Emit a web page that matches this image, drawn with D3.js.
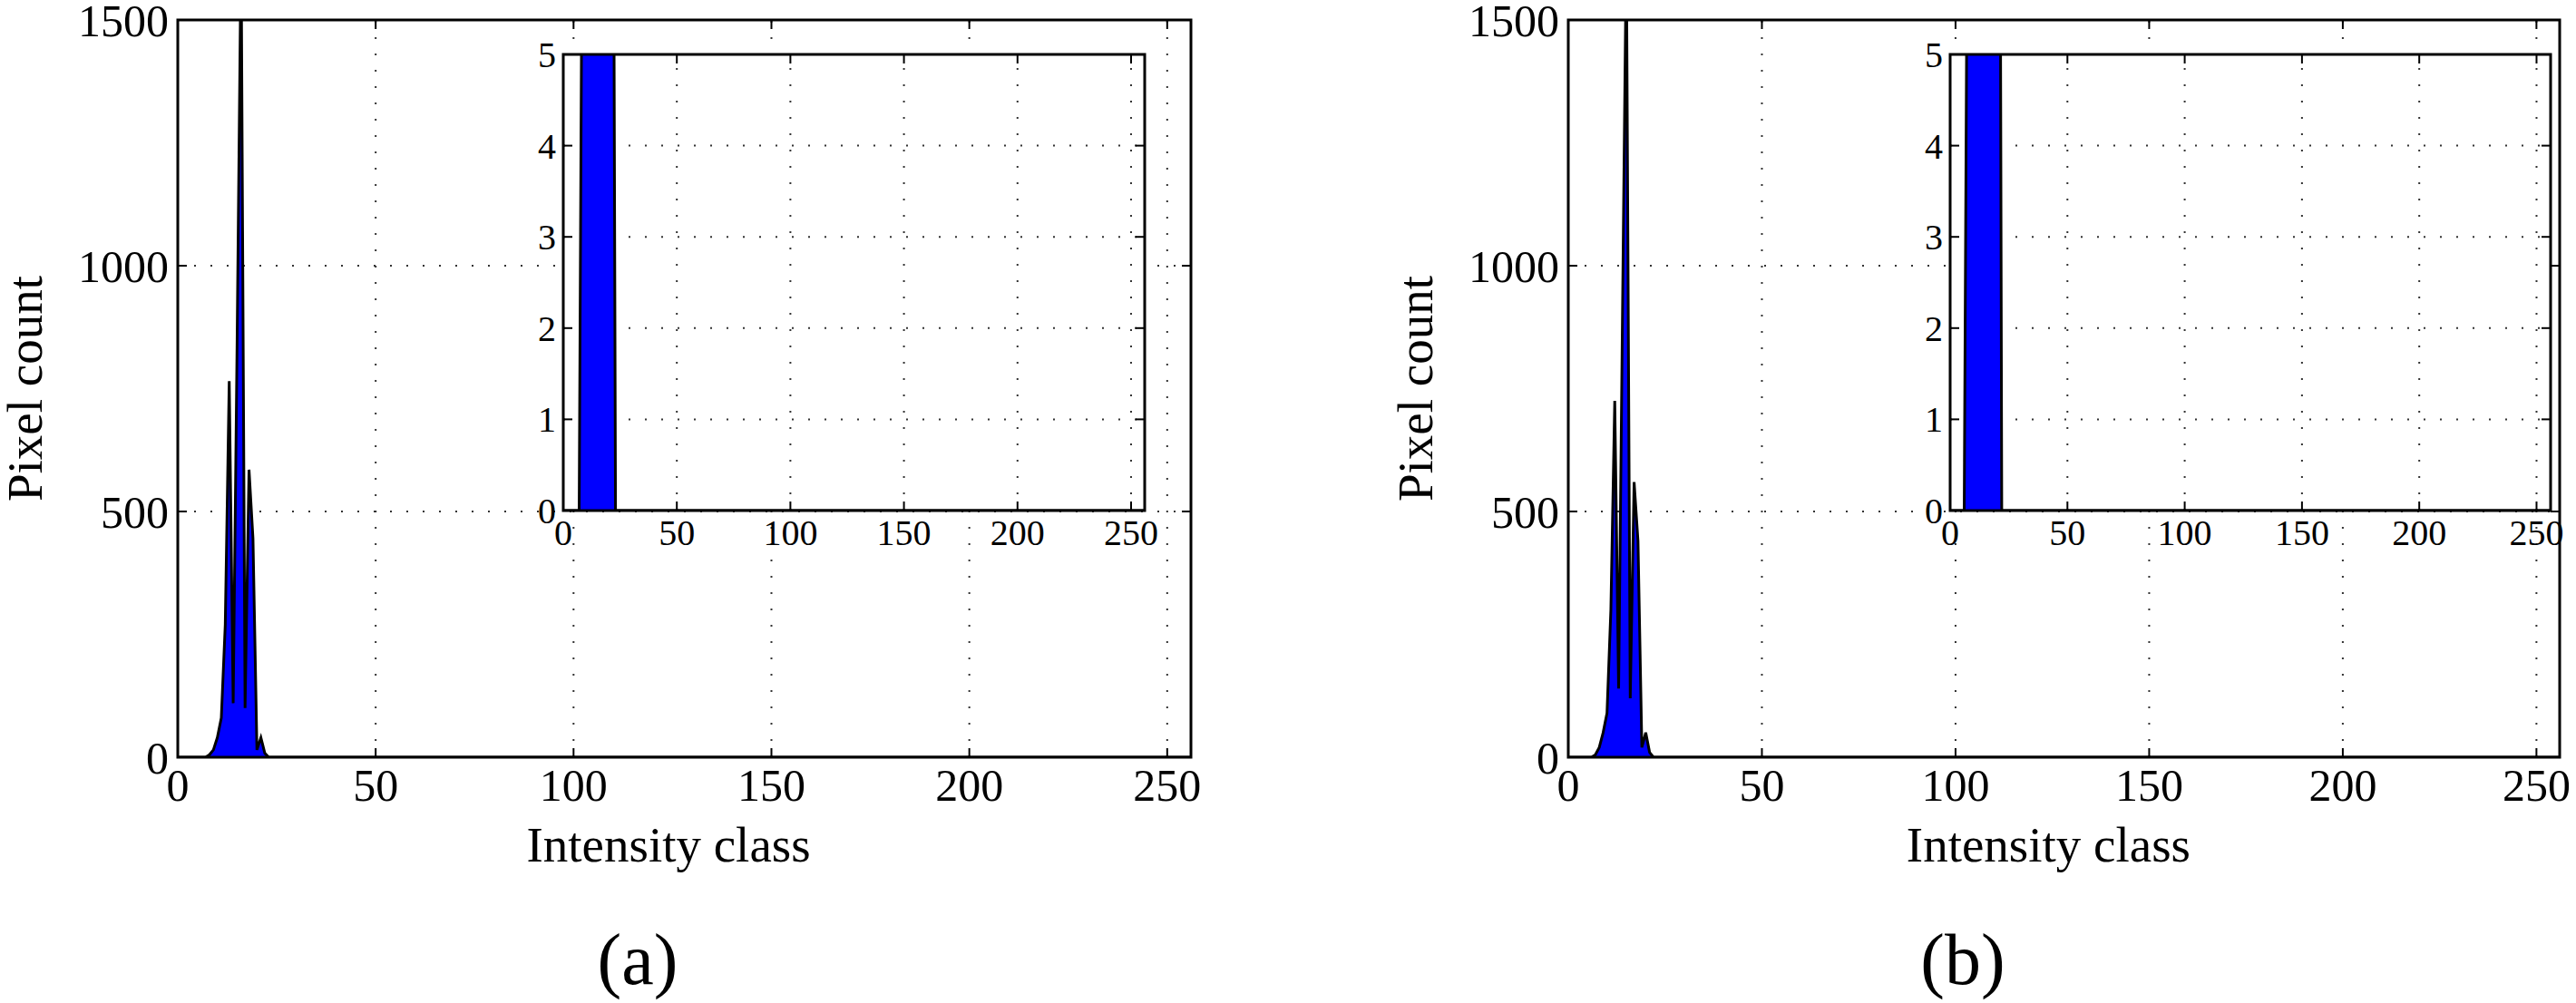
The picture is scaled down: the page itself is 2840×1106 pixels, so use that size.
<!DOCTYPE html>
<html><head><meta charset="utf-8">
<script src="https://cdn.jsdelivr.net/npm/d3@7"></script>
<style>body{margin:0;background:#fff}text{font-family:"Liberation Serif","Times New Roman",serif}</style>
</head><body>
<svg id="chart" width="2840" height="1106"></svg>
<script>
// intensity bins and pixel counts (bins not listed are 0)
const binsA = [7, 8, 9, 10, 11, 12, 13, 14, 15, 16, 17, 18, 19, 20, 21, 22, 23];
const countsA = [0, 5, 15, 40, 80, 270, 765, 110, 850, 1650, 100, 585, 445, 15, 40, 8, 0];
const binsB = [6, 7, 8, 9, 10, 11, 12, 13, 14, 15, 16, 17, 18, 19, 20, 21, 22];
const countsB = [0, 5, 20, 50, 90, 300, 725, 140, 900, 1650, 120, 560, 440, 20, 50, 10, 0];
const xTicks = [0, 50, 100, 150, 200, 250];
const yTicks = [0, 500, 1000, 1500];
const insetYTicks = [0, 1, 2, 3, 4, 5];
const panelLabels = ["(a)", "(b)"];

const svg = d3.select("#chart");

function toSeries(bins, counts) {
  const pts = [];
  for (let b = 0; b <= 256; b++) {
    const i = bins.indexOf(b);
    pts.push({b, c: i >= 0 ? counts[i] : 0});
  }
  return pts;
}

function drawGrid(g, id, x, y, yt) {
  const [x0, x1] = x.range(), [y0, y1] = y.range();
  g.append("clipPath").attr("id", id).append("rect")
    .attr("x", x0).attr("y", y1).attr("width", x1 - x0).attr("height", y0 - y1);
  const gr = g.append("g").attr("stroke", "#333").attr("stroke-width", 2).attr("stroke-dasharray", "2,16");
  xTicks.forEach(t => { if (t > 0) gr.append("line").attr("x1", x(t)).attr("x2", x(t)).attr("y1", y0).attr("y2", y1); });
  yt.forEach(t => { if (t > yt[0] && t < yt[yt.length - 1]) gr.append("line").attr("x1", x0).attr("x2", x1).attr("y1", y(t)).attr("y2", y(t)); });
}

function frame(g, x, y, yt, fs) {
  const [x0, x1] = x.range(), [y0, y1] = y.range();
  g.append("rect").attr("x", x0).attr("y", y1).attr("width", x1 - x0).attr("height", y0 - y1)
    .attr("fill", "none").attr("stroke", "#000").attr("stroke-width", 3);
  const tl = 10;
  xTicks.forEach(t => {
    g.append("line").attr("x1", x(t)).attr("x2", x(t)).attr("y1", y0).attr("y2", y0 - tl).attr("stroke", "#000").attr("stroke-width", 2);
    g.append("line").attr("x1", x(t)).attr("x2", x(t)).attr("y1", y1).attr("y2", y1 + tl).attr("stroke", "#000").attr("stroke-width", 2);
    g.append("text").attr("x", x(t)).attr("y", y0 + fs * 0.95).attr("text-anchor", "middle").attr("font-size", fs).text(t);
  });
  yt.forEach(t => {
    g.append("line").attr("x1", x0).attr("x2", x0 + tl).attr("y1", y(t)).attr("y2", y(t)).attr("stroke", "#000").attr("stroke-width", 2);
    g.append("line").attr("x1", x1).attr("x2", x1 - tl).attr("y1", y(t)).attr("y2", y(t)).attr("stroke", "#000").attr("stroke-width", 2);
    g.append("text").attr("x", x0 - fs * 0.2).attr("y", y(t)).attr("dy", "0.35em").attr("text-anchor", "end").attr("font-size", fs).text(t);
  });
}

function drawArea(g, id, data, x, y) {
  const area = d3.area().x(d => x(d.b)).y0(y.range()[0]).y1(d => y(d.c));
  const line = d3.line().x(d => x(d.b)).y(d => y(d.c));
  const c = g.append("g").attr("clip-path", `url(#${id})`);
  c.append("path").datum(data).attr("d", area).attr("fill", "#0000ff");
  c.append("path").datum(data).attr("d", line).attr("fill", "none").attr("stroke", "#000").attr("stroke-width", 3);
}

function panel(k, left, right, insetL, insetR, labelX, bins, counts) {
  const g = svg.append("g");
  const data = toSeries(bins, counts);
  const x = d3.scaleLinear().domain([0, 256]).range([left, right]);
  const y = d3.scaleLinear().domain([0, 1500]).range([835, 22]);
  drawGrid(g, "m" + k, x, y, yTicks);
  drawArea(g, "m" + k, data, x, y);
  frame(g, x, y, yTicks, 50);
  g.append("text").attr("x", x(124)).attr("y", 950).attr("text-anchor", "middle").attr("font-size", 55).text("Intensity class");
  g.append("text").attr("transform", `translate(${left - 150},${y(750)}) rotate(-90)`).attr("text-anchor", "middle").attr("font-size", 55).text("Pixel count");
  g.append("text").attr("x", labelX).attr("y", 1085).attr("text-anchor", "middle").attr("font-size", 80).text(panelLabels[k]);

  const xi = d3.scaleLinear().domain([0, 256]).range([insetL, insetR]);
  const yi = d3.scaleLinear().domain([0, 5]).range([563, 60]);
  g.append("rect").attr("x", insetL).attr("y", 60).attr("width", insetR - insetL).attr("height", 503).attr("fill", "#fff");
  drawGrid(g, "i" + k, xi, yi, insetYTicks);
  drawArea(g, "i" + k, data, xi, yi);
  frame(g, xi, yi, insetYTicks, 40);
}

panel(0, 196, 1313, 621, 1262, 703, binsA, countsA);
panel(1, 1729, 2822, 2150, 2812, 2164, binsB, countsB);
</script>
</body></html>
